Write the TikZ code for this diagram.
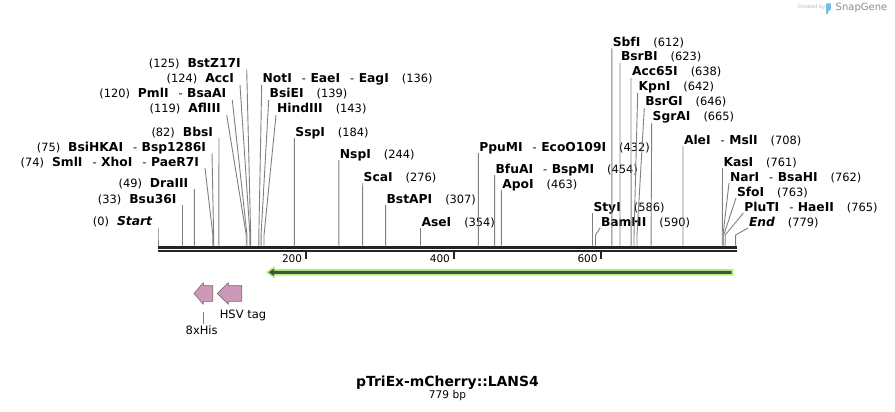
\documentclass[tikz,border=0pt]{standalone}
\usepackage{fontspec}
\setmainfont{DejaVu Sans}
\definecolor{sline}{RGB}{128,128,128}
\definecolor{bbcol}{RGB}{35,35,35}
\definecolor{pinkf}{RGB}{204,153,184}
\definecolor{pinkd}{RGB}{125,100,115}
\definecolor{glow}{RGB}{180,240,125}
\definecolor{orfd}{RGB}{70,82,68}
\definecolor{logog}{RGB}{140,140,140}
\definecolor{logol}{RGB}{185,185,185}
\definecolor{logob}{RGB}{110,190,235}
\newcommand{\nm}[1]{{\fontsize{12.3}{13}\selectfont\bfseries #1}}
\newcommand{\gp}{\hspace{8pt}}
\newcommand{\rg}{\hspace{13pt}}
\newcommand{\dsh}{\hspace{10pt}-\hspace{4.5pt}}
\newcommand{\bpx}[1]{158+0.7415*#1}
\newcommand{\lsite}[5]{%
  \coordinate (s#1) at ({\bpx{#2}},245.5);
  \coordinate (k#1) at ({\bpx{#2}},235);
  \coordinate (t#1) at (#3,#4+6);
  \node[lab,anchor=base east] (n#1) at (#3-6,#4+4) {#5};
  \draw[siteln] (t#1) -- (k#1) -- (s#1);
}
\newcommand{\rsite}[5]{%
  \coordinate (s#1) at ({\bpx{#2}},245.5);
  \coordinate (k#1) at ({\bpx{#2}},235);
  \coordinate (t#1) at (#3,#4+6);
  \node[lab,anchor=base west] (n#1) at (#3+1,#4+4) {#5};
  \draw[siteln] (t#1) -- (k#1) -- (s#1);
}
\begin{document}
\begin{tikzpicture}[x=1pt,y=-1pt,
  lab/.style={inner sep=0pt, outer sep=0pt, font=\fontsize{11.4}{13}\selectfont},
  siteln/.style={draw=sline, line width=0.9pt},
  bbline/.style={draw=bbcol, line width=2.6pt},
  tickln/.style={draw=bbcol, line width=1.8pt},
  ticklab/.style={inner sep=0pt, font=\fontsize{10.5}{12}\selectfont, anchor=base east},
  featarrow/.style={fill=pinkf, draw=pinkd, line width=0.6pt, line join=round},
  featlab/.style={inner sep=0pt, font=\fontsize{11.5}{13}\selectfont}]
\fill[white] (0,0) rectangle (895,412);
\useasboundingbox (0,0) rectangle (895,412);

% logo
\node[inner sep=0pt, font=\fontsize{5}{6}\selectfont, text=logol] (created) at (811.5,7.5) {Created by};
\fill[logob] (826,3.5) -- (830.8,3.5) -- (830.8,9.5) -- (828.2,11.5) -- (828.2,14) -- (826,14) -- cycle;
\node[inner sep=0pt, font=\fontsize{10}{11}\selectfont, text=logog] (snap) at (861.5,7.5) {SnapGene};

% backbone
\coordinate (bbL) at (158,247.3); \coordinate (bbR) at (736.5,247.3);
\coordinate (bbL2) at (158,251.2); \coordinate (bbR2) at (736.5,251.2);
\draw[bbline] (bbL) -- (bbR);
\draw[bbline,line width=2.3pt] (bbL2) -- (bbR2);

% ticks
\foreach \tx/\tl in {305.8/200, 453.6/400, 601.3/600}{
  \coordinate (tka\tl) at (\tx,252);
  \coordinate (tkb\tl) at (\tx,258.6);
  \draw[tickln] (tka\tl) -- (tkb\tl);
  \node[ticklab] (tkl\tl) at (\tx-3.5,262.3) {\tl};
}

% sites, left labels
\lsite{Start}{0}{158}{221.7}{(0)\gp\nm{\itshape Start}}
\lsite{Bsu}{33}{182.5}{199}{(33)\gp\nm{Bsu36I}}
\lsite{Dra}{49}{194.3}{183}{(49)\gp\nm{DraIII}}
\lsite{Sml}{74}{205}{162}{(74)\gp\nm{SmlI}\dsh\nm{XhoI}\dsh\nm{PaeR7I}}
\lsite{BsiHK}{75}{212}{147}{(75)\gp\nm{BsiHKAI}\dsh\nm{Bsp1286I}}
\lsite{Bbs}{82}{219}{132}{(82)\gp\nm{BbsI}}
\lsite{Afl}{119}{226.7}{109}{(119)\gp\nm{AflIII}}
\lsite{Pml}{120}{232.3}{94}{(120)\gp\nm{PmlI}\dsh\nm{BsaAI}}
\lsite{Acc}{124}{240}{79}{(124)\gp\nm{AccI}}
\lsite{BstZ}{125}{246.7}{63.3}{(125)\gp\nm{BstZ17I}}

% sites, right labels
\rsite{Not}{136}{261.7}{79}{\nm{NotI}\dsh\nm{EaeI}\dsh\nm{EagI}\rg(136)}
\rsite{BsiE}{139}{268.7}{94}{\nm{BsiEI}\rg(139)}
\rsite{Hind}{143}{276}{109}{\nm{HindIII}\rg(143)}
\rsite{Ssp}{184}{294.4}{132}{\nm{SspI}\rg(184)}
\rsite{Nsp}{244}{338.9}{154}{\nm{NspI}\rg(244)}
\rsite{Sca}{276}{362.7}{177}{\nm{ScaI}\rg(276)}
\rsite{BstAP}{307}{385.6}{199}{\nm{BstAPI}\rg(307)}
\rsite{Ase}{354}{420.5}{222}{\nm{AseI}\rg(354)}
\rsite{Ppu}{432}{478.3}{147}{\nm{PpuMI}\dsh\nm{EcoO109I}\rg(432)}
\rsite{Bfu}{454}{494.6}{169}{\nm{BfuAI}\dsh\nm{BspMI}\rg(454)}
\rsite{Apo}{463}{501.3}{184}{\nm{ApoI}\rg(463)}
\rsite{Sty}{586}{592.5}{207}{\nm{StyI}\rg(586)}
\rsite{Bam}{590}{600}{222}{\nm{BamHI}\rg(590)}
\rsite{Sbf}{612}{611.8}{42.5}{\nm{SbfI}\rg(612)}
\rsite{BsrB}{623}{620}{57}{\nm{BsrBI}\rg(623)}
\rsite{AccS}{638}{631}{72}{\nm{Acc65I}\rg(638)}
\rsite{Kpn}{642}{637.7}{87}{\nm{KpnI}\rg(642)}
\rsite{BsrG}{646}{644.3}{102}{\nm{BsrGI}\rg(646)}
\rsite{Sgr}{665}{651.7}{117}{\nm{SgrAI}\rg(665)}
\rsite{Ale}{708}{683}{140}{\nm{AleI}\dsh\nm{MslI}\rg(708)}
\rsite{Kas}{761}{722.5}{162}{\nm{KasI}\rg(761)}
\rsite{Nar}{762}{729}{177}{\nm{NarI}\dsh\nm{BsaHI}\rg(762)}
\rsite{Sfo}{763}{736}{192}{\nm{SfoI}\rg(763)}
\rsite{Plu}{765}{743.3}{207}{\nm{PluTI}\dsh\nm{HaeII}\rg(765)}
\rsite{End}{779}{748}{222}{\nm{\itshape End}\rg(779)}

% ORF arrow
\fill[glow] (265.8,272.3) -- (274.5,266.2) -- (274.5,269.1) -- (733.4,269.1) -- (733.4,275.5) -- (274.5,275.5) -- (274.5,278.4) -- cycle;
\fill[orfd] (268.6,272.3) -- (274,268.6) -- (274,270.8) -- (731.7,270.8) -- (731.7,273.8) -- (274,273.8) -- (274,276) -- cycle;

% features
\draw[featarrow] (194,293.5) -- (203.3,282.7) -- (203.3,285.7) -- (212.7,285.7) -- (212.7,301.3) -- (203.3,301.3) -- (203.3,304.3) -- cycle;
\draw[featarrow] (217.3,293.5) -- (228.3,282.7) -- (228.3,285.7) -- (241.7,285.7) -- (241.7,301.3) -- (228.3,301.3) -- (228.3,304.3) -- cycle;
\node[featlab] (hsv) at (243,315) {HSV tag};
\node[featlab,anchor=north] (his) at (201.7,326) {8xHis};
\coordinate (hisA) at (203.3,312.3);
\coordinate (hisB) at (203.3,324.3);
\draw[siteln,line width=0.7pt] (hisA) -- (hisB);

% title
\node[inner sep=0pt, anchor=base, font=\fontsize{13.9}{15}\selectfont\bfseries] (title) at (447.5,386.3) {pTriEx-mCherry::LANS4};
\node[inner sep=0pt, anchor=base, font=\fontsize{10.6}{12}\selectfont] (len) at (447.5,398) {779 bp};
\end{tikzpicture}
\end{document}
